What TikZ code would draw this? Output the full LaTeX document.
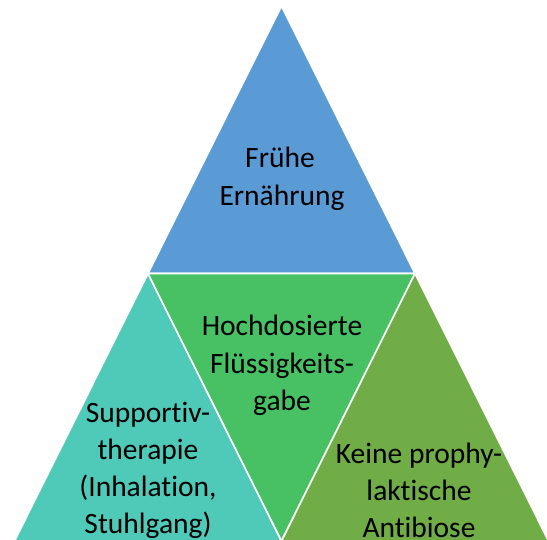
\documentclass[tikz,border=0pt]{standalone}
\usepackage{fontspec}
\setmainfont[Ligatures={NoCommon}]{Carlito}
\definecolor{cblue}{HTML}{5B9BD5}
\definecolor{cgreen}{HTML}{48C164}
\definecolor{cteal}{HTML}{50CAB8}
\definecolor{colive}{HTML}{70AD47}
\begin{document}
\begin{tikzpicture}[x=1pt,y=-1pt,
  tri/.style={draw=white,line width=1.6pt,line join=miter},
  lbl/.style={anchor=base,inner sep=0pt,font=\fontsize{29.5}{36}\selectfont}]
\useasboundingbox (0,0) rectangle (547,539);
\clip (0,0) rectangle (547,539);
\coordinate (A) at (281.5,6);
\coordinate (B) at (148,273.5);
\coordinate (C) at (415,273.5);
\coordinate (D) at (14.5,541);
\coordinate (E) at (281.5,541);
\coordinate (F) at (548.5,541);
\filldraw[tri,fill=cblue] (A) -- (B) -- (C) -- cycle;
\filldraw[tri,fill=cteal] (B) -- (D) -- (E) -- cycle;
\filldraw[tri,fill=cgreen] (B) -- (C) -- (E) -- cycle;
\filldraw[tri,fill=colive] (C) -- (E) -- (F) -- cycle;
\node[lbl] (t1) at (280,167) {Frühe};
\node[lbl] (t2) at (282,205) {Ernährung};
\node[lbl] (m1) at (282,335) {Hochdosierte};
\node[lbl] (m2) at (282,373) {Flüssigkeits-};
\node[lbl] (m3) at (282,410) {gabe};
\node[lbl] (l1) at (148,422) {Supportiv-};
\node[lbl] (l2) at (148,459) {therapie};
\node[lbl] (l3) at (148,496) {(Inhalation,};
\node[lbl] (l4) at (148,533) {Stuhlgang)};
\node[lbl] (r1) at (419,463) {Keine prophy-};
\node[lbl] (r2) at (419,500) {laktische};
\node[lbl] (r3) at (419,537) {Antibiose};
\end{tikzpicture}
\end{document}
